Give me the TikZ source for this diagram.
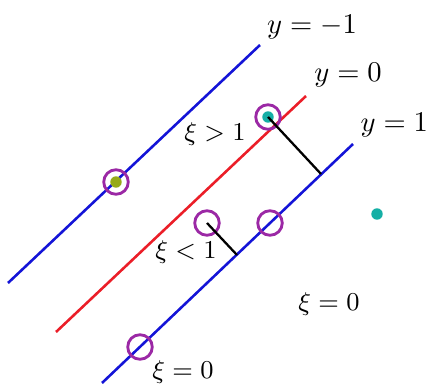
\documentclass[tikz,border=0pt]{standalone}
\usetikzlibrary{positioning}
\definecolor{svblue}{RGB}{20,20,215}
\definecolor{svred}{RGB}{235,30,40}
\definecolor{svring}{RGB}{155,40,165}
\definecolor{svolive}{RGB}{150,170,25}
\definecolor{svteal}{RGB}{20,175,165}
\tikzset{
  margin/.style={line width=0.9pt},
  ring/.style={circle,draw=svring,line width=1pt,minimum size=8.6pt,inner sep=0pt},
  dot/.style={circle,inner sep=0pt,minimum size=4pt},
  lbl/.style={inner sep=0pt},
  slk/.style={inner sep=0pt,font=\fontsize{9.2}{11}\selectfont}
}

\begin{document}
\begin{tikzpicture}[x=0.35pt,y=-0.35pt]
\useasboundingbox (0,0) rectangle (428,383);
% margins y=-1, y=0, y=1
\coordinate (m0) at (8,283);
\coordinate (m1) at (260,45);
\coordinate (h0) at (56,332);
\coordinate (h1) at (306,96);
\coordinate (p0) at (102,383);
\coordinate (p1) at (353,144);
\draw[svblue,margin] (m0)--(m1);
\draw[svred,margin] (h0)--(h1);
\draw[svblue,margin] (p0)--(p1);
\node[lbl] (lm) at (312,27) {$y=-1$};
\node[lbl] (lh) at (348,75) {$y=0$};
\node[lbl,anchor=west] (lp) at (360,125) {$y=1$};
% support vectors
\node[ring] (r0) at (116,182) {};
\node[ring] (r1) at (268,117) {};
\node[ring] (r2) at (207,223) {};
\node[ring] (r3) at (270,223) {};
\node[ring] (r4) at (140,347) {};
\node[dot,fill=svolive] (d0) at (r0.center) {};
\node[dot,fill=svteal] (d1) at (r1.center) {};
\node[dot,fill=svteal] (d2) at (377,214) {};
% slack
\coordinate (f1) at (321,174);
\coordinate (f2) at (237,255);
\draw[line width=0.8pt] (d1.center)--(f1);
\draw[line width=0.8pt] (r2.center)--(f2);
\node[slk] (x1) at (215,134) {$\xi>1$};
\node[slk] (x2) at (186,252) {$\xi<1$};
\node[slk] (x3) at (329,304) {$\xi=0$};
\node[slk] (x4) at (183,372) {$\xi=0$};
\end{tikzpicture}
\end{document}
